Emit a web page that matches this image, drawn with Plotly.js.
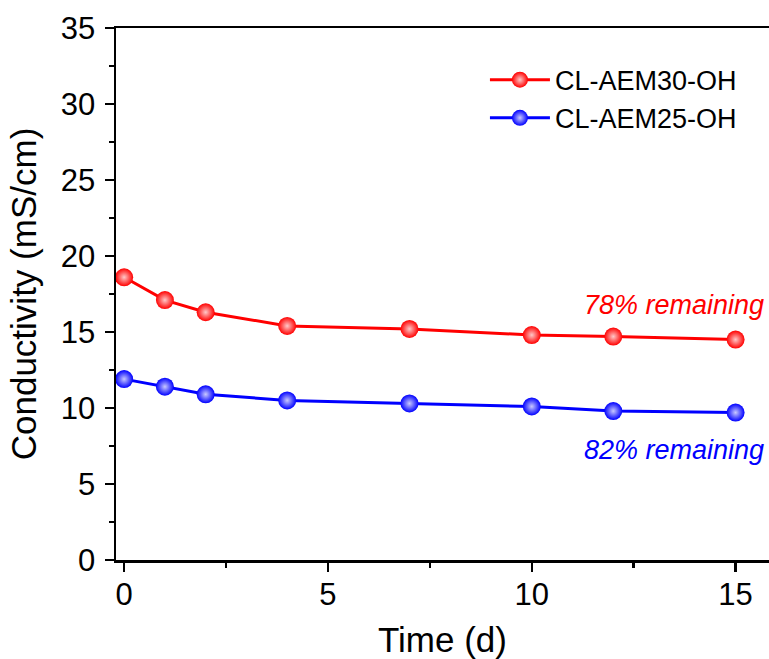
<!DOCTYPE html>
<html>
<head>
<meta charset="utf-8">
<script src="https://cdn.plot.ly/plotly-3.0.1.min.js"></script>
<style>html,body{margin:0;padding:0;background:#fff;}#chart{width:769px;height:659px;}</style>
</head>
<body>
<div id="chart"></div>
<script>
var days = [0, 1, 2, 4, 7, 10, 12, 15];
var aem30 = [18.6, 17.1, 16.3, 15.4, 15.2, 14.8, 14.7, 14.5];
var aem25 = [11.9, 11.4, 10.9, 10.5, 10.3, 10.1, 9.8, 9.7];
var seriesNames = ["CL-AEM30-OH", "CL-AEM25-OH"];
var remainingLabels = ["78% remaining", "82% remaining"];
var yTicks = [0, 5, 10, 15, 20, 25, 30, 35];
var xTicks = [0, 5, 10, 15];

var font = "Liberation Sans, Arial, sans-serif";
function trace(y, name, color, light) {
  return {
    x: days, y: y, name: name, type: "scatter", mode: "lines+markers",
    line: {color: color, width: 3},
    marker: {size: 18, color: color, line: {width: 0},
      gradient: {type: "radial", color: light}}
  };
}
var data = [
  trace(aem30, seriesNames[0], "#ff0000", "#ffc8c8"),
  trace(aem25, seriesNames[1], "#0000ff", "#c8c8ff")
];
var layout = {
  width: 769, height: 659,
  margin: {l: 116, r: 0, t: 28, b: 99},
  paper_bgcolor: "#fff", plot_bgcolor: "#fff",
  font: {family: font, color: "#000"},
  showlegend: true,
  legend: {x: 0.565, y: 0.948, xanchor: "left", yanchor: "top",
    bgcolor: "rgba(0,0,0,0)", font: {size: 27, family: font},
    tracegroupgap: 0, itemwidth: 60},
  xaxis: {range: [-0.2, 15.82], tickvals: xTicks, ticktext: xTicks.map(String),
    showgrid: false, zeroline: false, showline: true, linecolor: "#000", linewidth: 2.5,
    mirror: true, ticks: "outside", ticklen: 9, tickwidth: 2.5, tickcolor: "#000",
    tickfont: {size: 31, family: font}, ticklabelstandoff: -4,
    minor: {ticks: "outside", ticklen: 5, tickwidth: 2.5, tickcolor: "#000", dtick: 2.5, showgrid: false},
    title: {text: "Time (d)", font: {size: 35, family: font}, standoff: 18}},
  yaxis: {range: [0, 35], tickvals: yTicks, ticktext: yTicks.map(String),
    showgrid: false, zeroline: false, showline: true, linecolor: "#000", linewidth: 2.5,
    ticks: "outside", ticklen: 9, tickwidth: 2.5, tickcolor: "#000",
    tickfont: {size: 31, family: font}, ticklabelstandoff: 3,
    minor: {ticks: "outside", ticklen: 5, tickwidth: 2.5, tickcolor: "#000", dtick: 2.5, showgrid: false},
    title: {text: "Conductivity (mS/cm)", font: {size: 35, family: font}, standoff: 14}},
  annotations: [
    {xref: "paper", yref: "y", x: 0.995, y: 16.8, xanchor: "right", yanchor: "middle",
     text: "<i>" + remainingLabels[0] + "</i>", showarrow: false,
     font: {size: 27, color: "#ff0000", family: font}},
    {xref: "paper", yref: "y", x: 0.995, y: 7.25, xanchor: "right", yanchor: "middle",
     text: "<i>" + remainingLabels[1] + "</i>", showarrow: false,
     font: {size: 27, color: "#0000ff", family: font}}
  ]
};
Plotly.newPlot("chart", data, layout, {displayModeBar: false, staticPlot: true});
</script>
</body>
</html>
